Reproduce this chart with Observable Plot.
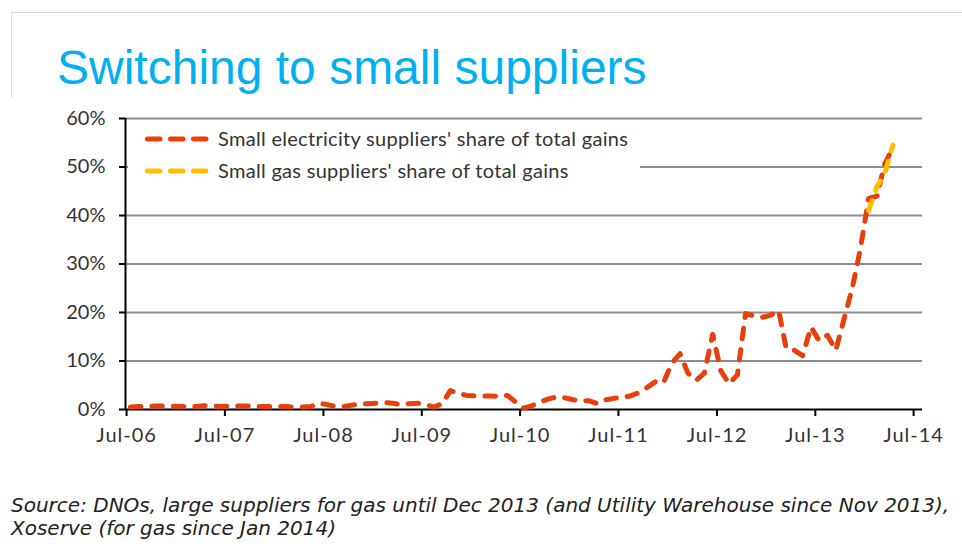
<!DOCTYPE html>
<html><head><meta charset="utf-8">
<script src="https://cdn.jsdelivr.net/npm/d3@7"></script>
<script src="https://cdn.jsdelivr.net/npm/@observablehq/plot@0.6"></script>
<style>
body{margin:0;background:#fff;}
#wrap{position:relative;width:962px;height:544px;overflow:hidden;font-family:Lato,sans-serif;}
#frameTop{position:absolute;left:11px;top:12px;width:951px;height:0;border-top:1.5px solid #dcdcdc;}
#frameLeft{position:absolute;left:11px;top:12px;width:0;height:86px;border-left:1.5px solid #dcdcdc;}
#title{position:absolute;left:57px;top:44px;font-family:"Liberation Sans",Arial,sans-serif;font-size:48px;line-height:48px;color:#00b0f0;white-space:nowrap;}
#chart{position:absolute;left:0;top:100px;}
#legend{position:absolute;left:128px;top:124px;width:512px;height:62px;background:#fff;}
#caption{position:absolute;left:11px;top:494px;font-family:"DejaVu Sans",sans-serif;font-style:italic;font-size:20px;line-height:23px;color:#222;white-space:nowrap;}
#chart g[aria-label="x-axis tick label"]{letter-spacing:1px;}
</style></head>
<body>
<div id="wrap">
  <div id="frameTop"></div><div id="frameLeft"></div>
  <div id="title">Switching to small suppliers</div>
  <div id="chart"></div>
  <div id="legend"></div>
  <div id="caption">Source: DNOs, large suppliers for gas until Dec 2013 (and Utility Warehouse since Nov 2013),<br>Xoserve (for gas since Jan 2014)</div>
</div>
<script>
// ---- data ----
const elecStart = "2006-07";
const elec = [
  0.5,0.6,0.6,0.7,0.7,0.7,0.6,0.6,0.6,0.8,0.7,0.6,
  0.7,0.7,0.7,0.7,0.6,0.6,0.6,0.6,0.5,0.5,0.6,1.3,
  1.0,0.6,0.6,0.9,1.2,1.2,1.3,1.4,1.3,1.0,1.2,1.3,
  1.0,0.5,1.2,3.9,3.3,2.9,2.8,2.8,2.8,2.7,2.9,1.5,
  0.3,0.8,1.6,2.2,2.6,2.4,2.0,1.8,1.8,1.2,2.0,2.3,
  2.5,2.8,3.5,4.5,5.7,5.5,9.5,11.5,7.5,6.0,7.5,15.5,
  8.0,5.3,7.2,19.8,19.3,19.0,19.4,20.4,12.6,12.2,11.1,17.0,
  14.2,15.3,12.2,18.5,25.0,33.0,43.5,44.0,50.5,54.0
];
const gasStart = "2014-01";
const gas = [41.0,46.0,48.5,54.5];
const seriesNames = ["Small electricity suppliers' share of total gains","Small gas suppliers' share of total gains"];
const seriesColors = ["#e8400c","#ffc000"];
const yTicks = [0,10,20,30,40,50,60];
const xTicks = ["2006-07-01","2007-07-01","2008-07-01","2009-07-01","2010-07-01","2011-07-01","2012-07-01","2013-07-01","2014-07-01"];

// ---- build ----
const parseM = d3.utcParse("%Y-%m");
const monthDate = (start,i) => d3.utcDay.offset(d3.utcMonth.offset(parseM(start), i), 14);
const elecData = elec.map((v,i)=>({date:monthDate(elecStart,i), value:v}));
const gasData = gas.map((v,i)=>({date:monthDate(gasStart,i), value:v}));
const xDomain = [new Date(Date.UTC(2006,5,27)), new Date(Date.UTC(2014,7,3))];
const dash = "10.5,11";

const chart = Plot.plot({
  width: 962, height: 370,
  marginLeft: 125, marginRight: 40, marginTop: 18, marginBottom: 61,
  style: {fontFamily: "Lato, sans-serif", fontSize: "20px", color: "#333", background: "transparent", overflow: "visible"},
  x: {type: "utc", domain: xDomain},
  y: {domain: [0, 60]},
  marks: [
    Plot.ruleY(yTicks.filter(d => d > 0), {stroke: "#8c8c8c", strokeWidth: 2}),
    Plot.axisY({ticks: yTicks, tickFormat: d => d + "%", tickSize: 6, tickPadding: 14, stroke: "#000", strokeWidth: 2, label: null, fontSize: 20}),
    Plot.axisX({ticks: xTicks.map(d => new Date(d)), tickFormat: d3.utcFormat("%b-%y"), tickSize: 7, tickPadding: 11, stroke: "#000", strokeWidth: 2, label: null, fontSize: 20}),
    Plot.ruleX([xDomain[0]], {stroke: "#000", strokeWidth: 2}),
    Plot.ruleY([0], {stroke: "#000", strokeWidth: 2}),
    Plot.line(elecData, {x: "date", y: "value", stroke: seriesColors[0], strokeWidth: 5, strokeDasharray: dash, strokeLinecap: "round", strokeLinejoin: "round"}),
    Plot.line(gasData, {x: "date", y: "value", stroke: seriesColors[1], strokeWidth: 5, strokeDasharray: dash, strokeLinecap: "round", strokeLinejoin: "round"})
  ]
});
document.getElementById("chart").appendChild(chart);

// legend
const leg = d3.select("#legend").append("svg").attr("width", 512).attr("height", 62);
seriesNames.forEach((name, i) => {
  const y = 15 + i * 32;
  leg.append("line").attr("x1", 19.5).attr("x2", 19.5 + 12.5*3 + 10.5*2).attr("y1", y).attr("y2", y)
    .attr("stroke", seriesColors[i]).attr("stroke-width", 5).attr("stroke-dasharray", "12.5,10.5").attr("stroke-linecap", "round");
  leg.append("text").attr("x", 90).attr("y", y).attr("dy", "0.35em")
    .attr("font-family", "Lato, sans-serif").attr("font-size", 20).attr("letter-spacing", "0.3px").attr("fill", "#333").text(name);
});
</script>
</body></html>
